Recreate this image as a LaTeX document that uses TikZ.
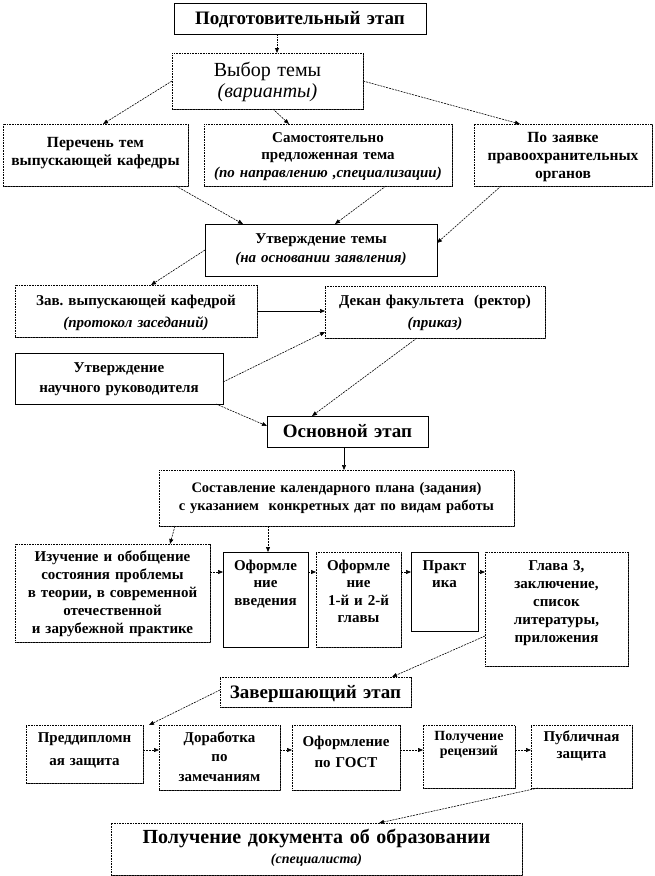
\documentclass[tikz,border=0pt]{standalone}
\usepackage{fontspec}
\setmainfont{Liberation Serif}
\usetikzlibrary{arrows.meta,shadows}
\frenchspacing
\newcommand\bx[8][]{%
  \pgfmathsetmacro\bxw{#5-#3-4}%
  \pgfmathsetmacro\bxh{#7-#4}%
  \pgfmathsetmacro\bxd{#6-#7}%
  \node[boxst,#1,anchor=north west,text width=\bxw pt,text height=\bxh pt,text depth=\bxd pt] (#2) at (#3,-#4) {#8};%
}
\tikzset{
  boxst/.style={draw=black, fill=white, line width=0.7pt, inner xsep=2pt, inner ysep=0pt, outer sep=0pt,
    align=center, font=\fontsize{15}{18}\selectfont\bfseries,
    drop shadow={shadow xshift=1.2pt, shadow yshift=-1.2pt, fill=black!75, opacity=1}},
  dot/.style={dash pattern=on 0.8pt off 0.8pt},
  fs/.style 2 args={font=\fontsize{#1}{#2}\selectfont\bfseries},
  conn/.style={draw, line width=0.6pt, dash pattern=on 2pt off 1pt, -{Triangle[length=5pt,width=4pt]}},
  sconn/.style={draw, line width=0.6pt, -{Triangle[length=5pt,width=4pt]}},
}
\begin{document}
\begin{tikzpicture}[x=1pt,y=1pt]
\useasboundingbox (0,0) rectangle (654,-876);
% boxes
\bx[fs={19}{22}]{prep}{174}{3}{426}{34}{24}{Подготовительный этап}
\bx[dot,font=\fontsize{20}{21.5}\selectfont]{vybor}{172}{53}{363}{109}{76}{Выбор темы\\\textit{(варианты)}}
\bx[dot,fs={15.5}{18}]{perechen}{3}{124}{188}{186}{147}{Перечень тем\\выпускающей кафедры}
\bx[dot,fs={15}{17.5}]{samost}{204}{124}{452}{186}{142}{Самостоятельно\\предложенная тема\\\textit{(по направлению ,специализации)}}
\bx[dot,fs={15.5}{18}]{zayav}{474}{124}{652}{186}{142}{По заявке\\правоохранительных\\органов}
\bx[fs={15}{19}]{utv}{205}{224}{437}{276}{243}{Утверждение темы\\\textit{(на основании заявления)}}
\bx[dot,fs={15}{22}]{zav}{15}{285}{257}{337}{305}{Зав. выпускающей кафедрой\\\textit{(протокол заседаний)}}
\bx[dot,fs={15}{22}]{dekan}{325}{286}{545}{338}{305}{Декан факультета~ (ректор)\\\textit{(приказ)}}
\bx[fs={15}{20}]{nauch}{15}{353}{223}{404}{372}{Утверждение\\научного руководителя}
\bx[fs={19}{22}]{osn}{267}{416}{428}{447}{437}{Основной этап}
\bx[dot,fs={14.5}{18}]{sost}{159}{470}{514}{526}{492}{Составление календарного плана (задания)\\с указанием~ конкретных дат по видам работы}
\bx[dot,fs={15}{18}]{izuch}{15}{544}{210}{642}{561}{Изучение и обобщение\\состояния проблемы\\в теории, в современной\\отечественной\\и зарубежной практике}
\bx[fs={15}{17.5}]{oform1}{223}{552}{308}{647}{570}{Оформле\\ние\\введения}
\bx[dot,fs={15}{17.5}]{oform2}{316}{552}{401}{647}{570}{Оформле\\ние\\1-й и 2-й\\главы}
\bx[fs={15}{17.5}]{prakt}{411}{552}{478}{631}{570}{Практ\\ика}
\bx[dot,fs={15}{18}]{glava}{485}{552}{628}{666}{570}{Глава 3,\\заключение,\\список\\литературы,\\приложения}
\bx[dot,fs={19}{22}]{zaversh}{220}{677}{411}{707}{698}{Завершающий этап}
\bx[dot,fs={15}{23}]{predd}{26}{725}{143}{783}{742}{Преддипломн\\ая защита}
\bx[dot,fs={15}{19.5}]{dorab}{159}{725}{280}{790}{742}{Доработка\\по\\замечаниям}
\bx[dot,fs={15}{21}]{gost}{292}{725}{400}{790}{746}{Оформление\\по ГОСТ}
\bx[dot,fs={14}{15}]{poluch}{423}{725}{515}{788}{740}{Получение\\рецензий}
\bx[dot,fs={15}{17}]{publ}{531}{725}{632}{788}{741}{Публичная\\защита}
\bx[dot,fs={20}{20}]{doc}{111}{823}{522}{875}{843}{Получение документа об образовании\\{\fontsize{14}{20}\selectfont\itshape (специалиста)}}
% connectors
\draw[conn, line width=0.9pt, dash pattern=on 1.5pt off 1pt] ([xshift=103pt]prep.south west) -- ([xshift=105pt]vybor.north west);
\draw[conn] (vybor.west) -- ([xshift=100pt]perechen.north west);
\draw[conn] ([xshift=101pt]vybor.south west) -- ([xshift=85pt]samost.north west);
\draw[conn] (vybor.east) -- ([xshift=46pt]zayav.north west);
\draw[conn] ([xshift=173pt]perechen.south west) -- ([xshift=38pt]utv.north west);
\draw[conn] ([xshift=182pt]samost.south west) -- ([xshift=130pt]utv.north west);
\draw[conn] ([xshift=27pt]zayav.south west) -- ([yshift=-19pt]utv.north east);
\draw[conn] ([yshift=-26pt]utv.north west) -- ([xshift=136pt]zav.north west);
\draw[sconn] (zav.east) -- (zav.east -| dekan.west);
\draw[conn] ([yshift=-29pt]nauch.north east) -- ([yshift=6pt]dekan.south west);
\draw[conn] ([xshift=-7pt]nauch.south east) -- ([yshift=-10pt]osn.north west);
\draw[conn] ([xshift=92pt]dekan.south west) -- ([xshift=45pt]osn.north west);
\draw[sconn] ([xshift=77pt]osn.south west) -- ([xshift=185pt]sost.north west);
\draw[conn] ([xshift=16pt]sost.south west) -- ([xshift=155pt]izuch.north west);
\draw[conn] ([xshift=109pt]sost.south west) -- ([xshift=45pt]oform1.north west);
\draw[conn] ([yshift=-28pt]izuch.north east) -- ([yshift=-20pt]oform1.north west);
\draw[conn] ([yshift=-20pt]oform1.north east) -- ([yshift=-20pt]oform2.north west);
\draw[conn] ([yshift=-20pt]oform2.north east) -- ([yshift=-20pt]prakt.north west);
\draw[conn] ([yshift=-20pt]prakt.north east) -- ([yshift=-20pt]glava.north west);
\draw[conn] ([yshift=-84pt]glava.north west) -- ([xshift=172pt]zaversh.north west);
\draw[conn] ([yshift=-13pt]zaversh.north west) -- ([xshift=123pt]predd.north west);
\draw[conn] ([yshift=-25pt]predd.north east) -- ([yshift=-25pt]dorab.north west);
\draw[conn] ([yshift=-25pt]dorab.north east) -- ([yshift=-25pt]gost.north west);
\draw[conn] ([yshift=-25pt]gost.north east) -- ([yshift=-25pt]poluch.north west);
\draw[conn] ([yshift=-25pt]poluch.north east) -- ([yshift=-25pt]publ.north west);
\draw[conn] ([xshift=7pt]publ.south west) -- ([xshift=268pt]doc.north west);
\end{tikzpicture}
\end{document}
